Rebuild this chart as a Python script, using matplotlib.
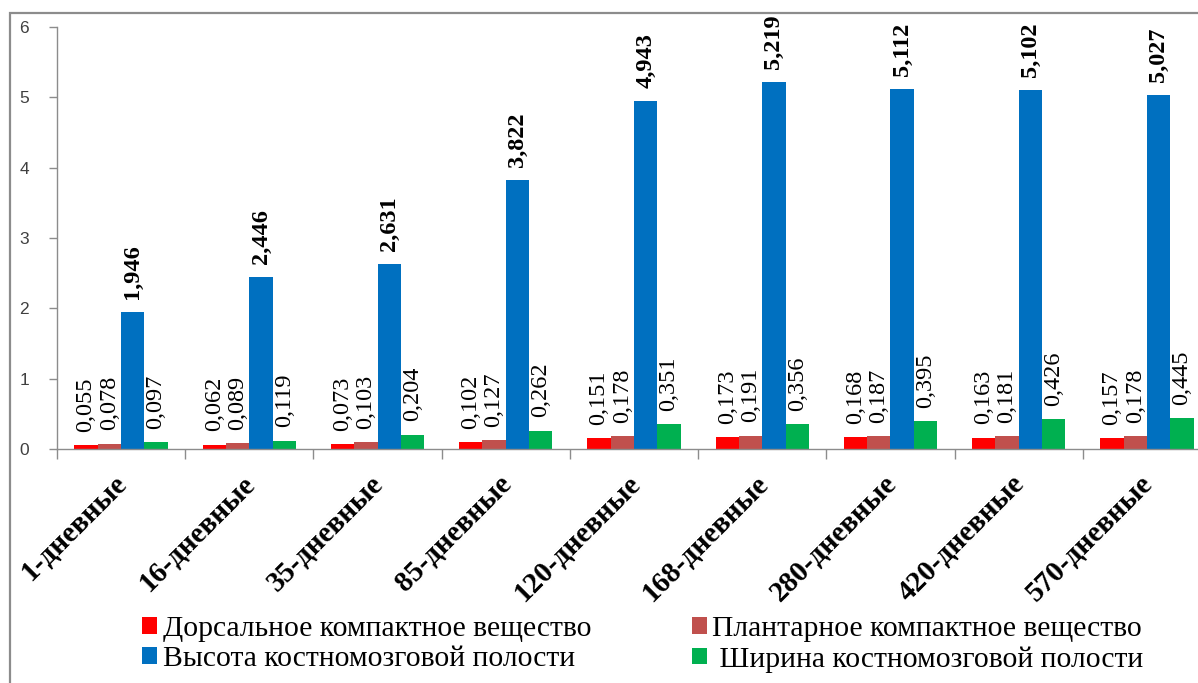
import matplotlib
matplotlib.use("Agg")
import matplotlib.pyplot as plt
import numpy as np
from matplotlib.patches import Rectangle

categories = ["1-дневные", "16-дневные", "35-дневные", "85-дневные", "120-дневные",
              "168-дневные", "280-дневные", "420-дневные", "570-дневные"]
dorsal = [0.055, 0.062, 0.073, 0.102, 0.151, 0.173, 0.168, 0.163, 0.157]
plantar = [0.078, 0.089, 0.103, 0.127, 0.178, 0.191, 0.187, 0.181, 0.178]
height = [1.946, 2.446, 2.631, 3.822, 4.943, 5.219, 5.112, 5.102, 5.027]
width_ = [0.097, 0.119, 0.204, 0.262, 0.351, 0.356, 0.395, 0.426, 0.445]
series_names = ["Дорсальное компактное вещество", "Плантарное компактное вещество",
                "Высота костномозговой полости", " Ширина костномозговой полости"]
colors = ["#FF0000", "#C0504D", "#0070C0", "#00B050"]
label_weights = ["normal", "normal", "bold", "normal"]
yticks = [0, 1, 2, 3, 4, 5, 6]

W, H = 1198, 683
fig = plt.figure(figsize=(W / 100, H / 100), dpi=100)

# outer chart frame
fig.patches.append(Rectangle((10 / W, -0.1), 1.2, (H - 13) / H + 0.1,
                             transform=fig.transFigure, fill=False,
                             edgecolor="#8C8C8C", linewidth=1.6))

ax = fig.add_axes([57 / W, (H - 449) / H, (1211 - 57) / W, (449 - 27) / H])

x = np.arange(len(categories))
bw = 0.182
serif = "Liberation Serif"
all_series = [dorsal, plantar, height, width_]
handles = []
for i, (vals, col, name, wt) in enumerate(zip(all_series, colors, series_names,
                                               label_weights)):
    pos = x + (i - 1.5) * bw
    bars = ax.bar(pos, vals, width=bw, color=col, label=name, zorder=2)
    handles.append(bars)
    for p, v in zip(pos, vals):
        ax.annotate(f"{v:.3f}".replace(".", ","), xy=(p, v), xytext=(0, 9.5),
                    textcoords="offset points", rotation=90, ha="center",
                    va="bottom", fontsize=17.5, family=serif, fontweight=wt,
                    color="black", annotation_clip=False)

ax.set_xlim(-0.5, len(categories) - 0.5)
ax.set_ylim(0, 6)
ax.set_yticks(yticks)
ax.set_yticklabels([str(t) for t in yticks], fontsize=12.5,
                   family="Liberation Sans", color="#404040")
ax.tick_params(axis="y", length=6, width=1, color="#8C8C8C", pad=14)

ax.set_xticks(np.arange(len(categories) + 1) - 0.5)
ax.set_xticklabels([])
ax.tick_params(axis="x", length=7, width=1, color="#8C8C8C", direction="out")
for xi, lab in zip(x, categories):
    ax.annotate(lab, xy=(xi, 0), xycoords=("data", "axes fraction"),
                xytext=(1.5, -22), textcoords="offset points",
                rotation=45, rotation_mode="anchor", ha="right", va="center",
                fontsize=21, fontweight="bold", family=serif,
                annotation_clip=False)

for s in ["top", "right"]:
    ax.spines[s].set_visible(False)
for s in ["left", "bottom"]:
    ax.spines[s].set_color("#8C8C8C")
    ax.spines[s].set_linewidth(1)

# legend filled column-wise: left column (0, 2), right column (1, 3)
order = [0, 2, 1, 3]
leg = fig.legend(handles=[handles[k] for k in order],
                 labels=[series_names[k] for k in order],
                 loc="upper left", bbox_to_anchor=(142 / W, 1 - 616 / H), ncol=2,
                 frameon=False, prop={"family": serif, "size": 21.3},
                 handlelength=0.5, handleheight=0.48, handletextpad=0.2,
                 columnspacing=3.4, labelspacing=0.14, borderpad=0,
                 borderaxespad=0)

fig.savefig("out.png", dpi=100)
